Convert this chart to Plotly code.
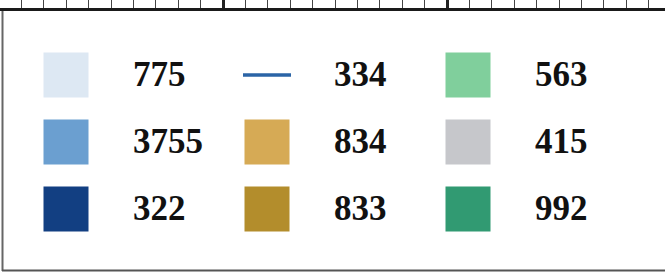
import plotly.graph_objects as go

# Legend entries (read row by row within each column)
labels = ["775", "3755", "322", "334", "834", "833", "563", "415", "992"]
colors = ["#dde8f3", "#6b9fd0", "#123f82", "#2b64a6", "#d6aa55", "#b38d2c",
          "#80cf9c", "#c6c7cb", "#319a72"]
kinds = ["square", "square", "square", "line", "square", "square",
         "square", "square", "square"]

# layout geometry (pixels)
W, H = 665, 273
col_x = [66, 267, 468]      # swatch centers
text_dx = 67                # text start offset from swatch center
row_y = [75, 142, 209]
text_dy = 2
sw = 45

fig = go.Figure()
for i, (lab, col, kind) in enumerate(zip(labels, colors, kinds)):
    cx = col_x[i // 3]
    cy = row_y[i % 3]
    if kind == "square":
        fig.add_trace(go.Scatter(x=[cx], y=[cy], mode="markers",
                                 marker=dict(symbol="square", size=sw, color=col,
                                             line=dict(width=0)),
                                 hoverinfo="skip", showlegend=False))
    else:
        fig.add_trace(go.Scatter(x=[cx - 24, cx + 24], y=[cy, cy], mode="lines",
                                 line=dict(color=col, width=3.5),
                                 hoverinfo="skip", showlegend=False))
    fig.add_trace(go.Scatter(x=[cx + text_dx], y=[cy + text_dy], mode="text",
                             text=[lab], textposition="middle right",
                             textfont=dict(family="Liberation Serif", size=35,
                                           color="#111111", weight="bold"),
                             hoverinfo="skip", showlegend=False))

# box border (left and bottom)
fig.add_shape(type="line", x0=2.5, x1=2.5, y0=10, y1=271,
              line=dict(color="#666666", width=2))
fig.add_shape(type="line", x0=2, x1=W, y0=270.5, y1=270.5,
              line=dict(color="#555555", width=2))

fig.update_layout(
    width=W, height=H,
    margin=dict(l=0, r=0, t=11, b=0),
    paper_bgcolor="white", plot_bgcolor="white",
    xaxis=dict(range=[0, W], side="top", showgrid=False, zeroline=False,
               showline=True, linecolor="#1a1a1a", linewidth=3,
               ticks="outside", tick0=223, dtick=224, ticklen=11, tickwidth=2.5,
               tickcolor="#222222", showticklabels=False,
               minor=dict(ticks="outside", dtick=22.4, tick0=223, ticklen=10,
                          tickwidth=1.3, tickcolor="#444444")),
    yaxis=dict(range=[H, 11], showgrid=False, zeroline=False, showline=False,
               showticklabels=False, ticks=""),
)

fig.write_html("out.html", config={"displayModeBar": False},
               post_script="document.body.style.margin='0';document.body.style.padding='0';")
